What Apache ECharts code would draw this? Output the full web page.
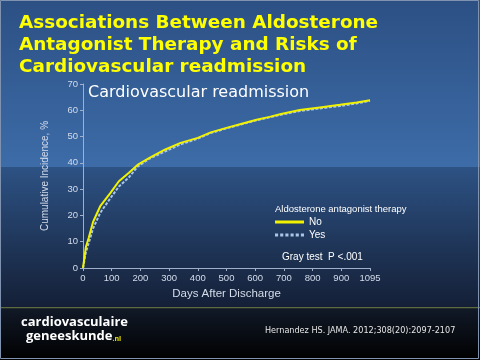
<!DOCTYPE html>
<html><head><meta charset="utf-8">
<script src="https://cdn.jsdelivr.net/npm/echarts@6/dist/echarts.min.js"></script>
<style>html,body{margin:0;padding:0;background:#000}#c{width:480px;height:360px}</style>
</head><body><div id="c"></div>
<script>
// Data (days after discharge, cumulative incidence %)
const days   = [0, 5, 10, 20, 35, 60, 95, 125, 160, 190, 230, 285, 340, 400, 445, 500, 550, 605, 650, 690, 755, 825, 895, 1005, 1095];
const noTher = [0, 4, 8, 11.5, 17.5, 23.5, 28.5, 33, 36.2, 39.2, 41.8, 45, 47.6, 49.5, 51.6, 53.3, 54.8, 56.4, 57.5, 58.6, 60.1, 61.1, 62.1, 63, 63.8];
const yesTher= [0, 3, 6, 9.5, 15, 21, 26.5, 31, 34.5, 38.5, 41.5, 44.3, 47, 49.2, 51.3, 53.1, 54.6, 56.2, 57.3, 58.3, 59.7, 60.7, 61.6, 62.6, 63.6];
const xTickLabels = ['0','100','200','300','400','500','600','700','800','900','1095'];
const yTicks = [0,10,20,30,40,50,60,70];
const seriesNames = ['No','Yes'];

// Axis is drawn with equal spacing for ticks; the last interval spans 900 -> 1095 days
function toAxis(d){ return d <= 900 ? d : 900 + (d - 900) * 100 / 195; }

const chart = echarts.init(document.getElementById('c'), null, {renderer:'canvas'});
const axisCol = '#9fb0c8', labCol = '#d4dceb';
chart.setOption({
  backgroundColor: 'transparent',
  animation: false,
  title: {
    text: 'Associations Between Aldosterone\nAntagonist Therapy and Risks of\nCardiovascular readmission',
    left: 19, top: 12, padding: 0,
    textStyle: {color:'#ffff00', fontFamily:'DejaVu Sans', fontWeight:'bold', fontSize:18.4, lineHeight:22}
  },
  graphic: [
    {type:'rect', z:-10, shape:{x:0,y:0,width:480,height:167}, style:{fill:new echarts.graphic.LinearGradient(0,0,0,1,[{offset:0,color:'#2c5084'},{offset:1,color:'#3d6ca8'}])}},
    {type:'rect', z:-10, shape:{x:0,y:167,width:480,height:141}, style:{fill:new echarts.graphic.LinearGradient(0,0,0,1,[{offset:0,color:'#2d5284'},{offset:1,color:'#141f36'}])}},
    {type:'rect', z:-10, shape:{x:0,y:308,width:480,height:52}, style:{fill:new echarts.graphic.LinearGradient(0,0,0,1,[{offset:0,color:'#111a28'},{offset:1,color:'#000000'}])}},
    {type:'rect', z:-9, shape:{x:0,y:307,width:480,height:1.2}, style:{fill:'#5d6b3e'}},
    {type:'rect', z:50, shape:{x:0.5,y:0.5,width:478,height:358}, style:{fill:null, stroke:'#7f93b0', lineWidth:1}},
    {type:'text', left:88, top:85, style:{text:'Cardiovascular readmission', fill:'#ffffff', font:'16px "DejaVu Sans"'}},
    {type:'text', left:275, top:204, style:{text:'Aldosterone antagonist therapy', fill:'#ffffff', font:'9.5px "Liberation Sans"'}},
    {type:'text', left:282, top:252, style:{text:'Gray test  P <.001', fill:'#ffffff', font:'10px "Liberation Sans"'}},
    {type:'text', left:21, top:316, style:{text:'cardiovasculaire', fill:'#ffffff', font:'bold 13px "Open Sans"'}},
    {type:'text', left:26, top:330, style:{rich:{a:{fill:'#ffffff', font:'bold 13px "Open Sans"'}, b:{fill:'#e8e000', font:'bold 7px "Open Sans"', padding:[5,0,0,0]}}, text:'{a|geneeskunde}{b|.nl}'}},
    {type:'text', left:265, top:327, style:{text:'Hernandez HS. JAMA. 2012;308(20):2097-2107', fill:'#e6e6e6', font:'8.1px "DejaVu Sans"'}}
  ],
  legend: {
    orient:'vertical', left:275, top:217, padding:0, itemWidth:29, itemHeight:8, itemGap:3,
    textStyle:{color:'#ffffff', fontFamily:'Liberation Sans', fontSize:10},
    data:[
      {name:seriesNames[0], icon:'path://M0,0 L29,0 L29,3 L0,3 Z', itemStyle:{color:'#f2f200'}},
      {name:seriesNames[1], icon:'path://M0,0 L3,0 L3,3 L0,3 Z M5,0 L8,0 L8,3 L5,3 Z M10,0 L13,0 L13,3 L10,3 Z M15,0 L18,0 L18,3 L15,3 Z M20,0 L23,0 L23,3 L20,3 Z M25,0 L28,0 L28,3 L25,3 Z', itemStyle:{color:'#a9c6e6'}}
    ]
  },
  grid: {left:83, right:110, top:84, bottom:92, containLabel:false},
  xAxis: {
    type:'value', min:0, max:1000, interval:100,
    name:'Days After Discharge', nameLocation:'middle', nameGap:20,
    nameTextStyle:{color:labCol, fontFamily:'Liberation Sans', fontSize:11.5},
    axisLine:{show:true, lineStyle:{color:axisCol, width:1}},
    axisTick:{show:true, length:3, lineStyle:{color:axisCol}},
    splitLine:{show:false},
    axisLabel:{color:labCol, fontFamily:'Liberation Sans', fontSize:9.5, margin:5,
      formatter:(v)=> xTickLabels[Math.round(v/100)]}
  },
  yAxis: {
    type:'value', min:0, max:70, interval:10,
    name:'Cumulative Incidence, %', nameLocation:'middle', nameGap:33, nameRotate:90,
    nameTextStyle:{color:labCol, fontFamily:'Liberation Sans', fontSize:10},
    axisLine:{show:true, lineStyle:{color:axisCol, width:1}},
    axisTick:{show:true, length:3, lineStyle:{color:axisCol}},
    splitLine:{show:false},
    axisLabel:{color:labCol, fontFamily:'Liberation Sans', fontSize:9.5, margin:5,
      formatter:(v)=> yTicks.includes(v) ? String(v) : ''}
  },
  series: [
    {name:seriesNames[1], type:'line', showSymbol:false, symbol:'none', z:2,
     data: days.map((d,i)=>[toAxis(d), yesTher[i]]),
     lineStyle:{color:'#a9c6e6', width:2, type:[3,1.5]}, itemStyle:{color:'#a9c6e6'}},
    {name:seriesNames[0], type:'line', showSymbol:false, symbol:'none', z:3,
     data: days.map((d,i)=>[toAxis(d), noTher[i]]),
     lineStyle:{color:'#f2f200', width:2}, itemStyle:{color:'#f2f200'}}
  ]
});
</script></body></html>
